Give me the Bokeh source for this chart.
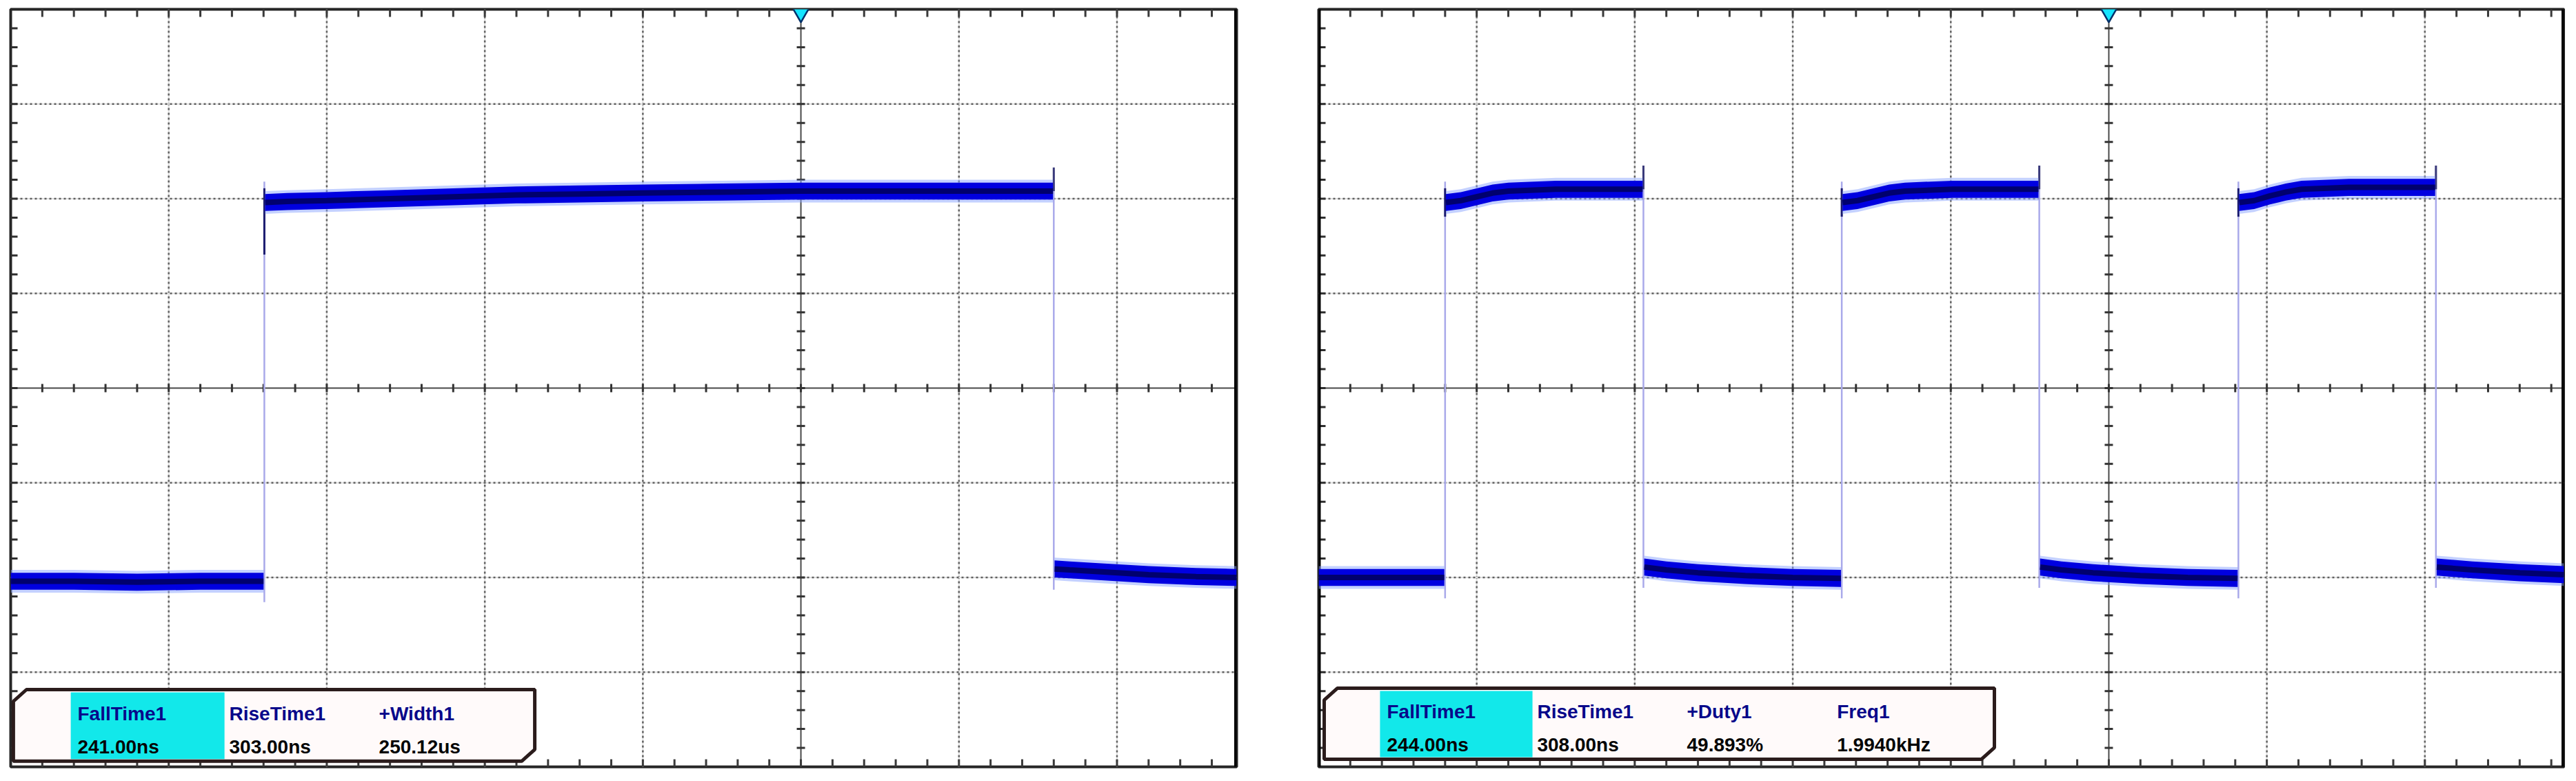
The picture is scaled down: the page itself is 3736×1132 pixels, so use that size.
from bokeh.plotting import figure
from bokeh.layouts import row
from bokeh.models import Range1d
from bokeh.core.properties import value
from bokeh.embed import file_html
from bokeh.resources import INLINE

# ---------------- data (all in screen divisions) ----------------
V_HALF = 4.0                 # 8 vertical divisions, centre at 0
LEFT_XMAX = 7.757            # visible horizontal divisions, left capture
RIGHT_XMAX = 7.880           # visible horizontal divisions, right capture
TRIGGER_DIV = 5              # trigger position (centre axis)

# Left capture : single pulse (50 us/div)
left_low_a_t = [0.00, 0.40, 0.80, 1.20, 1.600]
left_low_a_v = [-2.04, -2.04, -2.05, -2.04, -2.04]
left_high_t = [1.610, 1.75, 2.00, 2.40, 2.80, 3.20, 3.60, 4.00, 4.50, 5.00, 5.50, 6.00, 6.595]
left_high_v = [1.96, 1.97, 1.98, 2.00, 2.02, 2.04, 2.05, 2.06, 2.07, 2.08, 2.08, 2.08, 2.08]
left_low_b_t = [6.605, 6.70, 6.90, 7.20, 7.50, 7.757]
left_low_b_v = [-1.91, -1.92, -1.94, -1.97, -1.99, -2.00]
left_rise_t = [1.605]
left_fall_t = [6.600]

# Right capture : square wave (200 us/div)
right_low0_t = [0.00, 0.40, 0.795]
right_low0_v = [-2.00, -2.00, -2.00]
right_high1_t = [0.805, 0.90, 1.00, 1.10, 1.20, 1.50, 1.80, 2.050]
right_high1_v = [1.96, 1.98, 2.02, 2.06, 2.08, 2.10, 2.10, 2.10]
right_low1_t = [2.060, 2.20, 2.40, 2.70, 3.00, 3.305]
right_low1_v = [-1.89, -1.92, -1.95, -1.98, -2.00, -2.01]
right_high2_t = [3.315, 3.41, 3.51, 3.61, 3.71, 4.01, 4.31, 4.555]
right_high2_v = [1.96, 1.98, 2.02, 2.06, 2.08, 2.10, 2.10, 2.10]
right_low2_t = [4.565, 4.70, 4.90, 5.20, 5.50, 5.815]
right_low2_v = [-1.89, -1.92, -1.95, -1.98, -2.00, -2.01]
right_high3_t = [5.825, 5.92, 6.02, 6.12, 6.22, 6.52, 6.82, 7.065]
right_high3_v = [1.96, 1.98, 2.03, 2.07, 2.10, 2.12, 2.12, 2.12]
right_low3_t = [7.075, 7.30, 7.60, 7.880]
right_low3_v = [-1.89, -1.92, -1.95, -1.97]
right_rise_t = [0.800, 3.310, 5.820]
right_fall_t = [2.055, 4.560, 7.070]

# Measurement read-outs
left_meas_labels = ["FallTime1", "RiseTime1", "+Width1"]
left_meas_values = ["241.00ns", "303.00ns", "250.12us"]
right_meas_labels = ["FallTime1", "RiseTime1", "+Duty1", "Freq1"]
right_meas_values = ["244.00ns", "308.00ns", "49.893%", "1.9940kHz"]

# ---------------- styling / geometry ----------------
PX_X = 229.2      # px per horizontal division
PX_Y = 137.25     # px per vertical division
FONT = value("Liberation Sans")


def make_fig(xmax, border_left, border_right):
    fw = int(round(xmax * PX_X))
    p = figure(frame_width=fw, frame_height=int(round(2 * V_HALF * PX_Y)),
               x_range=Range1d(0, xmax), y_range=Range1d(-V_HALF, V_HALF),
               x_axis_location=None, y_axis_location=None,
               toolbar_location=None, output_backend="svg",
               min_border_left=border_left, min_border_right=border_right,
               min_border_top=13, min_border_bottom=4,
               background_fill_color="white", border_fill_color="white")
    p.xgrid.visible = False
    p.ygrid.visible = False
    p.outline_line_color = "#262626"
    p.outline_line_width = 4
    return p


def graticule(p, xmax):
    vx = [k for k in range(1, int(xmax) + 1) if k != TRIGGER_DIV]
    p.segment(x0=vx, y0=[-V_HALF] * len(vx), x1=vx, y1=[V_HALF] * len(vx),
              line_color="#e0e0e0", line_width=2)
    p.segment(x0=vx, y0=[-V_HALF] * len(vx), x1=vx, y1=[V_HALF] * len(vx),
              line_color="#606060", line_width=2.5, line_dash="3 4")
    hy = [-3, -2, -1, 1, 2, 3]
    p.segment(x0=[0] * len(hy), y0=hy, x1=[xmax] * len(hy), y1=hy,
              line_color="#e0e0e0", line_width=2)
    p.segment(x0=[0] * len(hy), y0=hy, x1=[xmax] * len(hy), y1=hy,
              line_color="#606060", line_width=2.5, line_dash="3 4")
    # centre axes
    p.segment(x0=[TRIGGER_DIV, 0], y0=[-V_HALF, 0], x1=[TRIGGER_DIV, xmax], y1=[V_HALF, 0],
              line_color="#4a4a4a", line_width=2)
    # minor ticks every 0.2 div
    xs = [i * 0.2 for i in range(1, int(xmax / 0.2) + 1)]
    ys = [-V_HALF + i * 0.2 for i in range(1, int(2 * V_HALF / 0.2))]
    lt = 11 / PX_Y
    p.segment(x0=xs, y0=[V_HALF] * len(xs), x1=xs, y1=[V_HALF - lt] * len(xs),
              line_color="#3a3a3a", line_width=3)
    p.segment(x0=xs, y0=[-V_HALF] * len(xs), x1=xs, y1=[-V_HALF + lt] * len(xs),
              line_color="#3a3a3a", line_width=3)
    ll = 10 / PX_X
    p.segment(x0=[0] * len(ys), y0=ys, x1=[ll] * len(ys), y1=ys,
              line_color="#2e2e2e", line_width=3)
    # centre-axis ticks (crossing)
    cx = 6 / PX_X
    cy = 6 / PX_Y
    p.segment(x0=[TRIGGER_DIV - cx] * len(ys), y0=ys, x1=[TRIGGER_DIV + cx] * len(ys), y1=ys,
              line_color="#333333", line_width=3)
    p.segment(x0=xs, y0=[-cy] * len(xs), x1=xs, y1=[cy] * len(xs),
              line_color="#333333", line_width=3)
    # heavy right edge
    p.segment(x0=[xmax], y0=[-V_HALF], x1=[xmax], y1=[V_HALF], line_color="black", line_width=7)


def trace(p, t, v):
    p.varea(x=t, y1=[a - 0.12 for a in v], y2=[a + 0.12 for a in v],
            fill_color="#8aa4ff", fill_alpha=0.5)
    p.varea(x=t, y1=[a - 0.09 for a in v], y2=[a + 0.09 for a in v],
            fill_color="#0000e0")
    p.line(t, v, line_color="#000048", line_width=8, line_alpha=0.75)


def edges(p, ts, lo, hi, rising, dark_len):
    n = len(ts)
    p.segment(x0=ts, y0=[lo - 0.22] * n, x1=ts, y1=[hi + 0.22] * n,
              line_color="#a9a9ea", line_width=2.5)
    if rising:
        p.segment(x0=ts, y0=[hi - dark_len] * n, x1=ts, y1=[hi + 0.15] * n,
                  line_color="#1a1a6e", line_width=3)
    else:
        p.segment(x0=ts, y0=[hi] * n, x1=ts, y1=[hi + 0.25] * n,
                  line_color="#3a3a7a", line_width=3)


def meas_box(p, x0, x1, y_top, y_bot, cyan_x0, cyan_x1, cols, labels, vals, lab_y, val_y):
    chx = 19 / PX_X
    chy = 17 / PX_Y
    xs = [x0, x0 + chx, x1, x1, x1 - chx, x0]
    ys = [y_top - chy, y_top, y_top, y_bot + chy, y_bot, y_bot]
    p.patch(xs, ys, fill_color="#fffafa", line_color=None)
    p.quad(left=[cyan_x0], right=[cyan_x1], top=[y_top - 4 / PX_Y], bottom=[y_bot + 3 / PX_Y],
           fill_color="#12e8ea", line_color=None)
    p.patch(xs, ys, fill_color=None, line_color="#2b1c1c", line_width=5)
    p.text(x=cols, y=[lab_y] * len(cols), text=labels, text_font=FONT,
           text_font_style="bold", text_font_size="28px", text_color="#08088a",
           text_baseline="alphabetic", text_align="left")
    p.text(x=cols, y=[val_y] * len(cols), text=vals, text_font=FONT,
           text_font_style="bold", text_font_size="28px", text_color="#050505",
           text_baseline="alphabetic", text_align="left")


def trigger(p):
    p.scatter(x=[TRIGGER_DIV], y=[V_HALF - 5 / PX_Y], marker="inverted_triangle", size=24,
              fill_color="#14e4ff", line_color="#00306a", line_width=2.5)


# ---------------- left capture ----------------
p1 = make_fig(LEFT_XMAX, 15, 59)
graticule(p1, LEFT_XMAX)
edges(p1, left_rise_t, -2.04, 1.96, True, 0.55)
edges(p1, left_fall_t, -1.91, 2.08, False, 0.0)
trace(p1, left_low_a_t, left_low_a_v)
trace(p1, left_high_t, left_high_v)
trace(p1, left_low_b_t, left_low_b_v)
meas_box(p1, 0.017, 3.316, -3.184, -3.940, 0.380, 1.353,
         [0.423, 1.383, 2.330], left_meas_labels, left_meas_values, -3.44, -3.79)
trigger(p1)

# ---------------- right capture ----------------
p2 = make_fig(RIGHT_XMAX, 60, 2)
graticule(p2, RIGHT_XMAX)
p2.segment(x0=[0], y0=[-V_HALF], x1=[0], y1=[V_HALF], line_color="black", line_width=6)
edges(p2, right_rise_t, -2.0, 1.96, True, 0.15)
edges(p2, right_fall_t, -1.89, 2.10, False, 0.0)
for t, v in [(right_low0_t, right_low0_v), (right_high1_t, right_high1_v),
             (right_low1_t, right_low1_v), (right_high2_t, right_high2_v),
             (right_low2_t, right_low2_v), (right_high3_t, right_high3_v),
             (right_low3_t, right_low3_v)]:
    trace(p2, t, v)
meas_box(p2, 0.035, 4.276, -3.170, -3.920, 0.388, 1.353,
         [0.432, 1.383, 2.330, 3.280], right_meas_labels, right_meas_values, -3.42, -3.77)
trigger(p2)

layout = row(p1, p2, spacing=0)
open("out.html", "w").write(file_html(layout, INLINE))
